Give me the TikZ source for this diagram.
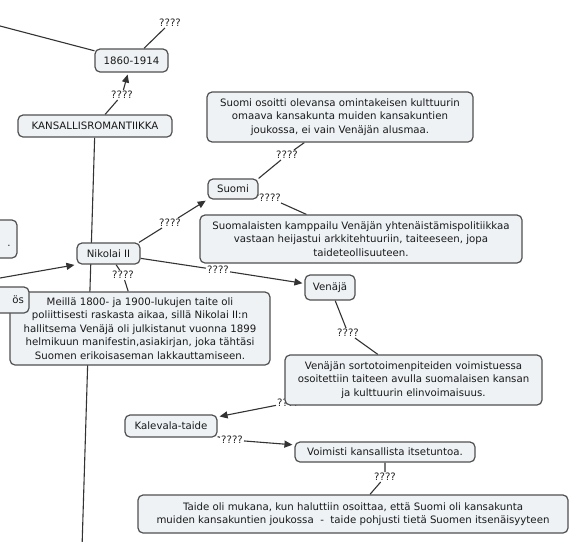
\documentclass[tikz,border=0pt]{standalone}
\usepackage{fontspec}
\setmainfont{DejaVu Sans}
\usetikzlibrary{arrows.meta,backgrounds}
\definecolor{boxfill}{HTML}{EEF2F5}
\definecolor{boxdraw}{HTML}{505050}
\definecolor{linec}{HTML}{333333}
\begin{document}
\begin{tikzpicture}[x=1pt,y=-1pt,
  cbox/.style={draw=boxdraw, line width=1.2pt, rounded corners=5pt, fill=boxfill,
    text=black!90, align=center, font=\fontsize{10.2}{13.5}\selectfont, inner sep=2pt},
  qlbl/.style={font=\fontsize{10.2}{12}\selectfont, inner sep=1pt, text=black!85},
  conn/.style={draw=linec, line width=1.1pt},
  arr/.style={conn, -{Triangle[length=8pt,width=7pt]}, shorten >=2pt}]
\clip (0,0) rectangle (569,541);

% boxes
\node[cbox, minimum width=73pt, minimum height=23pt] (n1860) at (131.5,60.5) {1860-1914};
\node[cbox, minimum width=154pt, minimum height=22pt] (kans) at (95,126) {KANSALLISROMANTIIKKA};
\node[cbox, minimum width=266pt, minimum height=50pt] (stop) at (340,117) {Suomi osoitti olevansa omintakeisen kulttuurin\\omaava kansakunta muiden kansakuntien\\joukossa, ei vain Venäjän alusmaa.};
\node[cbox, minimum width=50pt, minimum height=20pt] (suomi) at (233,189) {Suomi};
\node[cbox, minimum width=322pt, minimum height=48pt] (sbot) at (361,239) {Suomalaisten kamppailu Venäjän yhtenäistämispolitiikkaa\\vastaan heijastui arkkitehtuuriin, taiteeseen, jopa\\taideteollisuuteen.};
\node[cbox, minimum width=37pt, minimum height=38pt] (lt) at (-1.5,239) {};
\node[qlbl] (ltdot) at (9,246) {.};
\node[cbox, minimum width=63pt, minimum height=21pt] (nik) at (108.5,253.5) {Nikolai II};
\node[cbox, minimum width=50pt, minimum height=25pt] (ven) at (330,287.5) {Venäjä};
\node[cbox, minimum width=260pt, minimum height=73pt] (meil) at (140,328.5) {Meillä 1800- ja 1900-lukujen taite oli\\poliittisesti raskasta aikaa, sillä Nikolai II:n\\hallitsema Venäjä oli julkistanut vuonna 1899\\helmikuun manifestin,asiakirjan, joka tähtäsi\\Suomen erikoisaseman lakkauttamiseen.};
\node[cbox, minimum width=60pt, minimum height=26pt, text width=50pt, align=right] (os) at (-1,300) {ös};
\node[cbox, minimum width=257pt, minimum height=50pt] (sorto) at (413.5,380) {Venäjän sortotoimenpiteiden voimistuessa\\osoitettiin taiteen avulla suomalaisen kansan\\ja kulttuurin elinvoimaisuus.};
\node[cbox, minimum width=92pt, minimum height=22pt] (kal) at (171,426) {Kalevala-taide};
\node[cbox, minimum width=180pt, minimum height=20pt] (voim) at (385,452) {Voimisti kansallista itsetuntoa.};
\node[cbox, minimum width=430pt, minimum height=38pt] (taide) at (353,514) {Taide oli mukana, kun haluttiin osoittaa, että Suomi oli kansakunta\\muiden kansakuntien joukossa\ \ -\ \ taide pohjusti tietä Suomen itsenäisyyteen};

% link labels
\node[qlbl] (q1860) at (170,23) {????};
\node[qlbl] (qkans) at (122,95) {????};
\node[qlbl] (qstop) at (287,155) {????};
\node[qlbl] (qsbot) at (270,198) {????};
\node[qlbl] (qnsu) at (170,223) {????};
\node[qlbl] (qnve) at (218,270) {????};
\node[qlbl] (qnme) at (123,275) {????};
\node[qlbl] (qven) at (348,333) {????};
\node[qlbl] (qkal) at (232,440) {????};
\node[qlbl] (qvoim) at (385,477) {????};

\coordinate (tl) at (0,26);
\coordinate (lin) at (0,278);
\coordinate (vbot) at (82,548);

\begin{pgfonlayer}{background}
\fill[white] (0,0) rectangle (569,541);
\node[qlbl] (qsorto) at (288,403) {????};
\draw[conn] (tl) -- (n1860);
\draw[conn] (n1860) -- (q1860);
\draw[conn] (kans) -- (qkans);
\draw[arr] (qkans) -- (n1860);
\draw[conn] (kans) -- (vbot);
\draw[arr] (lin) -- (nik.south west);
\draw[conn] (nik.20) -- (qnsu);
\draw[arr] (qnsu) -- (suomi.south west);
\draw[conn] (nik) -- (qnve);
\draw[arr] (qnve) -- (ven);
\draw[conn] (nik) -- (qnme) -- (meil);
\draw[conn] (suomi.north east) -- (qstop) -- (stop);
\draw[conn] (suomi) -- (qsbot) -- (sbot);
\draw[conn] (ven) -- (qven) -- (sorto);
\draw[arr] (qsorto) -- (kal);
\draw[conn] (kal) -- (qkal);
\draw[arr] (qkal) -- (voim);
\draw[conn] (voim) -- (qvoim) -- (taide);
\end{pgfonlayer}
\end{tikzpicture}
\end{document}
